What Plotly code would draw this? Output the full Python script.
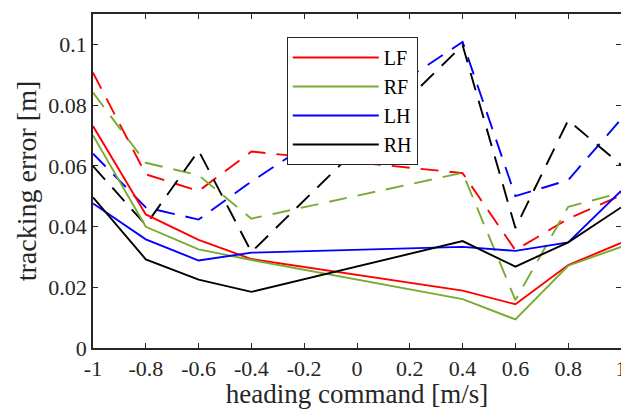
import plotly.graph_objects as go

x_cmd = [-1.0, -0.8, -0.6, -0.4, 0.4, 0.6, 0.8, 1.0]

# solid lines (series 1)
lf_solid = [0.0731, 0.0440, 0.0356, 0.0293, 0.0189, 0.0144, 0.0273, 0.0346]
rf_solid = [0.0700, 0.0399, 0.0325, 0.0290, 0.0161, 0.0094, 0.0271, 0.0333]
lh_solid = [0.0476, 0.0358, 0.0288, 0.0314, 0.0333, 0.0320, 0.0348, 0.0517]
rh_solid = [0.0496, 0.0292, 0.0225, 0.0185, 0.0352, 0.0268, 0.0348, 0.0463]

# dashed lines (series 2)
lf_dash = [0.0907, 0.0572, 0.0517, 0.0647, 0.0576, 0.0322, 0.0426, 0.0503]
rf_dash = [0.0841, 0.0610, 0.0569, 0.0426, 0.0577, 0.0158, 0.0465, 0.0511]
lh_dash = [0.0640, 0.0463, 0.0423, 0.0548, 0.1008, 0.0500, 0.0553, 0.0753]
rh_dash = [0.0599, 0.0405, 0.0650, 0.0316, 0.0997, 0.0395, 0.0750, 0.0603]

names = ["LF", "RF", "LH", "RH"]
colors = ["#FF0000", "#77AC30", "#0000FF", "#000000"]

x_ticks = [-1, -0.8, -0.6, -0.4, -0.2, 0, 0.2, 0.4, 0.6, 0.8, 1]
x_ticktext = ["-1", "-0.8", "-0.6", "-0.4", "-0.2", "0", "0.2", "0.4", "0.6", "0.8", "1"]
y_ticks = [0, 0.02, 0.04, 0.06, 0.08, 0.1]
y_ticktext = ["0", "0.02", "0.04", "0.06", "0.08", "0.1"]

FONT = "Liberation Serif"
AX = "#262626"

fig = go.Figure()
for name, col, ys in zip(names, colors, [lf_dash, rf_dash, lh_dash, rh_dash]):
    fig.add_trace(go.Scatter(x=x_cmd, y=ys, mode="lines", showlegend=False,
                             line=dict(color=col, width=1.9, dash="18px,11px")))
for name, col, ys in zip(names, colors, [lf_solid, rf_solid, lh_solid, rh_solid]):
    fig.add_trace(go.Scatter(x=x_cmd, y=ys, mode="lines", name=name,
                             line=dict(color=col, width=1.9)))

fig.update_layout(
    width=621, height=401,
    margin=dict(l=85, r=2, t=6, b=61),
    paper_bgcolor="white", plot_bgcolor="white",
    font=dict(family=FONT, size=22, color=AX),
    legend=dict(x=0.367, y=0.931, xanchor="left", yanchor="top",
                bgcolor="white", bordercolor=AX, borderwidth=1,
                font=dict(family=FONT, size=20, color="#000000"),
                itemwidth=86, tracegroupgap=0),
)
fig.update_xaxes(range=[-1, 1], tickvals=x_ticks, ticktext=x_ticktext,
                 ticks="inside", ticklen=5, tickwidth=1, tickcolor=AX,
                 showline=True, linecolor=AX, linewidth=1.5, mirror="ticks",
                 showgrid=False, zeroline=False, ticklabeloverflow="allow",
                 tickfont=dict(family=FONT, size=22, color=AX),
                 title=dict(text="heading command [m/s]", standoff=2,
                            font=dict(family=FONT, size=27, color=AX)))
fig.update_yaxes(range=[0, 0.11], tickvals=y_ticks, ticktext=y_ticktext,
                 ticks="inside", ticklen=5, tickwidth=1, tickcolor=AX,
                 showline=True, linecolor=AX, linewidth=1.5, mirror="ticks",
                 showgrid=False, zeroline=False,
                 tickfont=dict(family=FONT, size=22, color=AX),
                 title=dict(text="tracking error [m]", standoff=4,
                            font=dict(family=FONT, size=28, color=AX)))

fig.write_html("out.html")
